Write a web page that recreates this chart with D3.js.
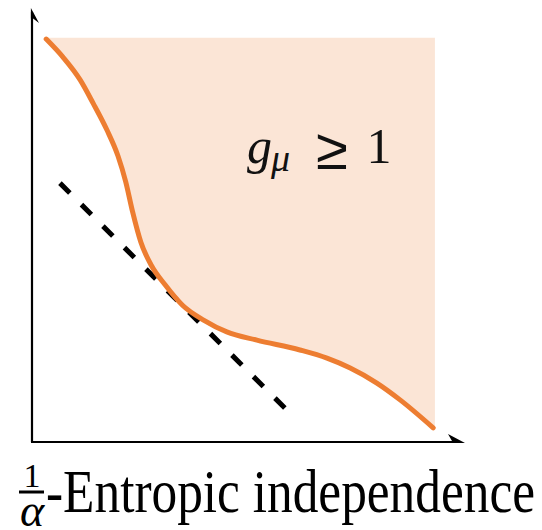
<!DOCTYPE html>
<html>
<head>
<meta charset="utf-8">
<script src="https://cdn.jsdelivr.net/npm/d3@7"></script>
<style>
  html, body { margin: 0; padding: 0; background: #fff; }
  svg { display: block; }
</style>
</head>
<body>
<div id="chart"></div>
<script>
// Boundary curve of the g_mu >= 1 region (schematic units, 0..100 on both axes)
const curveX = [3.3, 7.2, 11.2, 14.2, 17.4, 20.0, 21.8, 23.4, 25.3, 27.8, 31.0, 35.0, 40.0, 45.3, 52.3, 62.3, 68.6, 74.0, 80.2, 85.6, 93.3];
const curveY = [93.7, 89.5, 84.2, 78.8, 72.6, 66.5, 60.5, 53.5, 46.5, 41.0, 36.5, 31.8, 28.3, 25.6, 23.7, 21.4, 19.5, 17.2, 13.7, 9.8, 3.3];

// Dashed tangent line
const dashX = [6.5, 58.8];
const dashY = [60.2, 7.9];

// Extent of the shaded region
const shadeX = [3.0, 93.7];
const shadeTop = 94.0;

// Texts
const regionLabel = { base: "g", sub: "μ", rel: "≥", rhs: "1" };
const axisLabel = { num: "1", den: "α", text: "-Entropic independence" };

const W = 542, H = 530;
const orange = "#ED7D31", peach = "#FBE5D6";

const svg = d3.select("#chart").append("svg")
  .attr("width", W).attr("height", H);

const x = d3.scaleLinear().domain([0, 100]).range([32, 462]);
const y = d3.scaleLinear().domain([0, 100]).range([442, 12]);

const pts = curveX.map((v, i) => [v, curveY[i]]);
const line = d3.line().x(d => x(d[0])).y(d => y(d[1])).curve(d3.curveMonotoneX);

// Shaded region: above the curve, bounded by the top and right edges
const curvePath = line(pts);
const last = pts[pts.length - 1];
const fillPath = curvePath +
  `L${x(shadeX[1])},${y(last[1])}` +
  `L${x(shadeX[1])},${y(shadeTop)}` +
  `L${x(shadeX[0])},${y(shadeTop)}` +
  `L${x(pts[0][0])},${y(pts[0][1])}Z`;

svg.append("path").attr("d", fillPath).attr("fill", peach).attr("stroke", "none");

// Axes with half arrowheads
const axisG = svg.append("g");
axisG.append("line")
  .attr("x1", x(0)).attr("y1", y(0)).attr("x2", x(0)).attr("y2", 12)
  .attr("stroke", "#000").attr("stroke-width", 2.2);
axisG.append("line")
  .attr("x1", x(0) - 1).attr("y1", y(0)).attr("x2", 460).attr("y2", y(0))
  .attr("stroke", "#000").attr("stroke-width", 2.2);
axisG.append("path")
  .attr("d", `M${x(0) - 1.1},8 L${x(0) + 7},23 L${x(0) + 1.1},18.5 L${x(0) - 1.1},18.5 Z`)
  .attr("fill", "#000");
axisG.append("path")
  .attr("d", `M465,${y(0) + 1.1} L448,${y(0) - 8} L452,${y(0) - 1.1} L452,${y(0) + 1.1} Z`)
  .attr("fill", "#000");

// Dashed tangent: dash pattern sized so both ends finish on a dash
const dx1 = x(dashX[0]), dy1 = y(dashY[0]), dx2 = x(dashX[1]), dy2 = y(dashY[1]);
const dLen = Math.hypot(dx2 - dx1, dy2 - dy1);
const nDash = 11, dashLen = 14;
const gapLen = (dLen - nDash * dashLen) / (nDash - 1);
svg.append("line")
  .attr("x1", dx1).attr("y1", dy1).attr("x2", dx2).attr("y2", dy2)
  .attr("stroke", "#000").attr("stroke-width", 5)
  .attr("stroke-dasharray", `${dashLen} ${gapLen}`);

// Boundary curve
svg.append("path").attr("d", curvePath)
  .attr("fill", "none").attr("stroke", orange)
  .attr("stroke-width", 5).attr("stroke-linecap", "round");

// Region label g_mu >= 1
const lab = svg.append("g").attr("fill", "#111");
lab.append("text").attr("x", 247).attr("y", 163)
  .style("font-size", "50px").style("font-style", "italic")
  .style("font-family", "'Liberation Serif', serif").text(regionLabel.base);
lab.append("text").attr("x", 271).attr("y", 171)
  .style("font-size", "38px").style("font-style", "italic")
  .style("font-family", "'Liberation Serif', serif").text(regionLabel.sub);
lab.append("text").attr("x", 332).attr("y", 169).attr("text-anchor", "middle")
  .style("font-size", "58px").style("font-family", "'DejaVu Sans', sans-serif")
  .style("font-weight", "200").text(regionLabel.rel);
lab.append("text").attr("x", 379).attr("y", 163).attr("text-anchor", "middle")
  .style("font-size", "50px").style("font-family", "'Liberation Serif', serif")
  .text(regionLabel.rhs);

// Axis label: 1/alpha-Entropic independence
const xl = svg.append("g").attr("fill", "#000")
  .style("font-family", "'Liberation Serif', serif");
xl.append("text").attr("x", 32).attr("y", 487).attr("text-anchor", "middle")
  .style("font-size", "34px").text(axisLabel.num);
xl.append("line").attr("x1", 19).attr("x2", 44).attr("y1", 492).attr("y2", 492)
  .attr("stroke", "#000").attr("stroke-width", 3);
xl.append("text").attr("x", 32).attr("y", 526).attr("text-anchor", "middle")
  .style("font-size", "46px").style("font-style", "italic").text(axisLabel.den);
xl.append("text").attr("x", 46).attr("y", 512)
  .attr("textLength", 489).attr("lengthAdjust", "spacingAndGlyphs")
  .style("font-size", "62px").text(axisLabel.text);
</script>
</body>
</html>
